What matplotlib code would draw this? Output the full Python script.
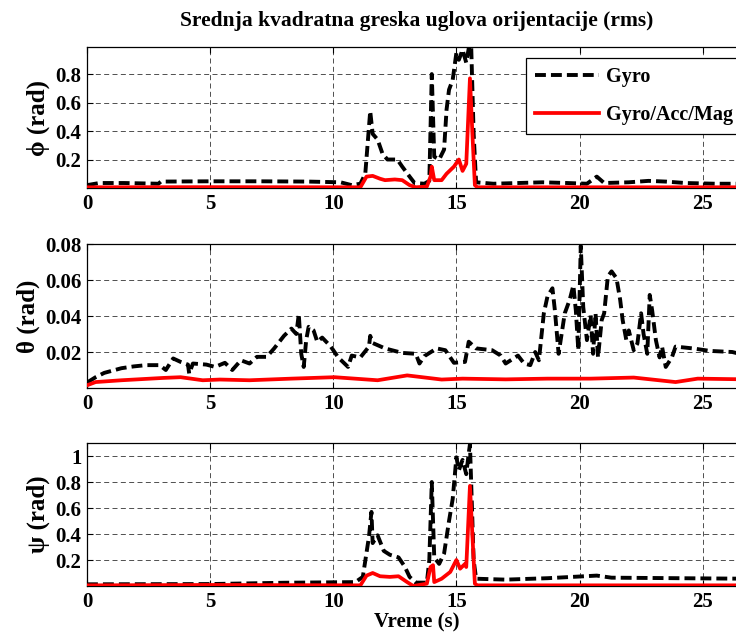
import matplotlib
matplotlib.use('Agg')
import matplotlib.pyplot as plt

# ── Data ──────────────────────────────────────────────────────────────────────

phi_gyro_t = [0, 0.5, 1.5, 2.9, 3.0, 5, 7, 9, 10.3, 10.75, 11.1, 11.3, 11.5,
              11.6, 11.8, 12.0, 12.2, 12.6, 12.8, 13.1, 13.3, 13.7, 13.9, 14.0,
              14.1, 14.3, 14.5, 14.6, 14.7, 14.85, 15.0, 15.1, 15.25, 15.4,
              15.5, 15.6, 15.7, 15.8, 16.5, 17.5, 18.5, 19.5, 20.3, 20.7, 21.0,
              22.0, 22.8, 23.5, 24.3, 25.5, 26.8]
phi_gyro = [0.02, 0.035, 0.035, 0.03, 0.045, 0.047, 0.047, 0.045, 0.04, 0.02,
            0.03, 0.1, 0.54, 0.38, 0.34, 0.24, 0.2, 0.2, 0.15, 0.08, 0.035,
            0.03, 0.05, 0.8, 0.22, 0.2, 0.27, 0.55, 0.69, 0.76, 0.95, 0.9,
            0.97, 0.88, 0.98, 1.0, 0.38, 0.04, 0.03, 0.035, 0.04, 0.035, 0.03,
            0.08, 0.035, 0.04, 0.05, 0.045, 0.035, 0.03, 0.03]

phi_fused_t = [0, 5, 11.1, 11.35, 11.6, 11.9, 12.1, 12.5, 12.8, 13.1, 13.35,
               13.8, 13.95, 14.0, 14.1, 14.4, 14.6, 14.9, 15.1, 15.25, 15.4,
               15.55, 15.65, 15.75, 15.85, 20, 26.8]
phi_fused = [0.005, 0.006, 0.005, 0.08, 0.085, 0.065, 0.055, 0.06, 0.055, 0.02,
             0.005, 0.01, 0.08, 0.15, 0.055, 0.055, 0.1, 0.15, 0.2, 0.12, 0.17,
             0.77, 0.38, 0.02, 0.005, 0.005, 0.005]

theta_gyro_t = [0, 0.35, 0.7, 1.4, 1.9, 2.4, 2.95, 3.2, 3.5, 3.8, 4.1, 4.15,
                4.3, 4.85, 5.2, 5.6, 5.9, 6.25, 6.6, 6.9, 7.3, 7.6, 8.0, 8.3,
                8.5, 8.6, 8.7, 8.8, 8.9, 9.0, 9.2, 9.35, 9.55, 9.9, 10.2, 10.6,
                10.75, 11.1, 11.45, 11.5, 11.6, 12.1, 12.8, 13.35, 13.5, 13.7,
                14.2, 14.55, 14.9, 15.35, 15.5, 15.8, 16.45, 16.8, 17.0, 17.5,
                17.75, 18.0, 18.2, 18.35, 18.55, 18.7, 18.9, 19.0, 19.15, 19.25,
                19.4, 19.6, 19.75, 19.85, 19.95, 20.05, 20.15, 20.3, 20.45,
                20.55, 20.65, 20.75, 20.9, 21.0, 21.15, 21.3, 21.5, 21.65,
                21.75, 21.9, 22.0, 22.2, 22.35, 22.5, 22.6, 22.75, 22.85,
                22.95, 23.1, 23.25, 23.35, 23.5, 23.75, 23.9, 24.6, 25.3, 26.2,
                26.8]
theta_gyro = [0.003, 0.006, 0.0084, 0.011, 0.012, 0.0127, 0.0127, 0.01, 0.0164,
              0.0145, 0.013, 0.008, 0.0136, 0.013, 0.0117, 0.014, 0.01, 0.0154,
              0.0136, 0.0173, 0.0173, 0.022, 0.029, 0.033, 0.03, 0.041, 0.019,
              0.0117, 0.0266, 0.034, 0.032, 0.0257, 0.028, 0.023, 0.017,
              0.0117, 0.018, 0.017, 0.023, 0.029, 0.025, 0.022, 0.0195, 0.019,
              0.0136, 0.0177, 0.022, 0.021, 0.014, 0.0145, 0.0257, 0.022,
              0.021, 0.018, 0.0136, 0.018, 0.0136, 0.0127, 0.02, 0.0154,
              0.0415, 0.051, 0.0554, 0.043, 0.019, 0.028, 0.0415, 0.049, 0.057,
              0.043, 0.021, 0.079, 0.045, 0.0266, 0.0405, 0.019, 0.0415, 0.017,
              0.0378, 0.0415, 0.062, 0.0648, 0.061, 0.049, 0.0378, 0.0266,
              0.032, 0.021, 0.0247, 0.0415, 0.030, 0.019, 0.0517, 0.043,
              0.0266, 0.017, 0.023, 0.0117, 0.017, 0.023, 0.022, 0.0206, 0.02,
              0.018]

theta_fused_t = [0, 0.35, 1.4, 3.1, 3.8, 4.7, 5.4, 6.6, 8.3, 10.05, 11.8, 13.0,
                 14.4, 15.25, 17.0, 18.7, 20.45, 22.2, 23.9, 24.8, 26.8]
theta_fused = [0.0015, 0.0033, 0.0043, 0.0056, 0.006, 0.0043, 0.0047, 0.0043,
               0.0052, 0.006, 0.0043, 0.007, 0.0047, 0.0052, 0.0048, 0.0052,
               0.0052, 0.0058, 0.0033, 0.0052, 0.0048]

psi_gyro_t = [0, 5, 8, 10.9, 11.2, 11.45, 11.55, 11.6, 11.8, 12.05, 12.3,
              12.65, 12.9, 13.1, 13.35, 13.8, 13.9, 14.0, 14.1, 14.3, 14.5,
              14.7, 14.85, 15.0, 15.1, 15.25, 15.4, 15.5, 15.55, 15.7, 15.8,
              17.0, 18.7, 20.7, 21.3, 24.0, 26.8]
psi_gyro = [0.013, 0.015, 0.025, 0.03, 0.07, 0.38, 0.57, 0.33, 0.39, 0.27,
            0.24, 0.22, 0.15, 0.07, 0.026, 0.026, 0.2, 0.8, 0.22, 0.17, 0.25,
            0.5, 0.67, 0.99, 0.89, 0.97, 0.86, 1.02, 1.09, 0.2, 0.056, 0.049,
            0.06, 0.08, 0.064, 0.06, 0.056]

psi_fused_t = [0, 5, 11.1, 11.35, 11.6, 11.9, 12.3, 12.65, 13.0, 13.25, 13.8,
               13.95, 14.05, 14.1, 14.4, 14.75, 15.0, 15.15, 15.35, 15.4, 15.55,
               15.7, 15.75, 15.85, 20, 26.8]
psi_fused = [0.005, 0.008, 0.005, 0.08, 0.1, 0.075, 0.07, 0.075, 0.03, 0.0,
             0.018, 0.146, 0.16, 0.03, 0.056, 0.108, 0.2, 0.133, 0.17, 0.146,
             0.77, 0.2, 0.018, 0.005, 0.005, 0.005]

x_ticks = [0, 5, 10, 15, 20, 25]
phi_ticks = [0.2, 0.4, 0.6, 0.8]
theta_ticks = [0.02, 0.04, 0.06, 0.08]
psi_ticks = [0.2, 0.4, 0.6, 0.8, 1.0]
psi_ticklabels = ['0.2', '0.4', '0.6', '0.8', '1']

# ── Style ─────────────────────────────────────────────────────────────────────

SERIF = ['Liberation Serif', 'DejaVu Serif']
plt.rcParams['font.family'] = SERIF
plt.rcParams['font.weight'] = 'bold'

W, H = 736, 637
# axes boxes in pixels: (left, top, right, bottom); right edge runs past the figure
BOXES = [(87, 47, 747, 188), (87, 244, 747, 388), (87, 443, 747, 586)]

fig = plt.figure(figsize=(W / 100, H / 100), dpi=100)


def make_axes(box):
    l, t, r, b = box
    return fig.add_axes([l / W, 1 - b / H, (r - l) / W, (b - t) / H])


def style_axes(ax, yticks, ylim, ylabel, yticklabels=None):
    ax.set_xlim(0, 26.8)
    ax.set_ylim(*ylim)
    ax.set_xticks(x_ticks)
    ax.set_yticks(yticks)
    if yticklabels is not None:
        ax.set_yticklabels(yticklabels)
    ax.tick_params(direction='in', length=4, width=0.8, top=True, right=True,
                   labelsize=15, pad=4)
    for lab in ax.get_xticklabels() + ax.get_yticklabels():
        lab.set_fontweight('bold')
    ax.grid(True, color='#333333', linewidth=0.6, linestyle=(0, (6, 4)))
    for s in ax.spines.values():
        s.set_linewidth(0.9)
    ax.set_ylabel(ylabel, fontsize=18, fontweight='bold', labelpad=4)


def draw(ax, tg, g, tf, f):
    ax.plot(tg, g, color='black', linewidth=2.8, linestyle=(0, (2.8, 1.3)),
            label='Gyro', zorder=3)
    ax.plot(tf, f, color='red', linewidth=2.7, label='Gyro/Acc/Mag', zorder=4)


ax1 = make_axes(BOXES[0])
draw(ax1, phi_gyro_t, phi_gyro, phi_fused_t, phi_fused)
style_axes(ax1, phi_ticks, (0, 0.99), 'ϕ (rad)')
ax1.set_title('Srednja kvadratna greska uglova orijentacije (rms)',
              fontsize=15.5, fontweight='bold', pad=15)
leg = ax1.legend(loc='upper right', bbox_to_anchor=(0.992, 0.922),
                 fontsize=14.5, frameon=True, fancybox=False, framealpha=1,
                 edgecolor='black', handlelength=3.2, borderpad=0.45,
                 labelspacing=0.9, handletextpad=0.3, borderaxespad=0)
leg.get_frame().set_linewidth(0.9)
for txt in leg.get_texts():
    txt.set_fontweight('bold')

ax2 = make_axes(BOXES[1])
draw(ax2, theta_gyro_t, theta_gyro, theta_fused_t, theta_fused)
style_axes(ax2, theta_ticks, (0, 0.08), 'θ (rad)')

ax3 = make_axes(BOXES[2])
draw(ax3, psi_gyro_t, psi_gyro, psi_fused_t, psi_fused)
style_axes(ax3, psi_ticks, (0, 1.1), 'ψ (rad)', psi_ticklabels)
ax3.set_xlabel('Vreme (s)', fontsize=15, fontweight='bold', labelpad=1)

fig.savefig('out.png', dpi=100)
